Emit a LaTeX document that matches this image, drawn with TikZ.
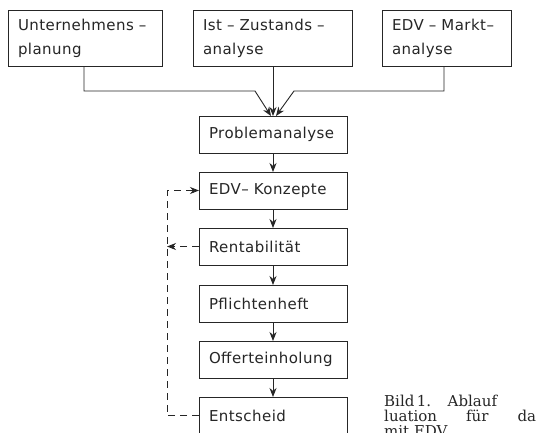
\documentclass[tikz,border=0pt]{standalone}
\usepackage{fontspec}
\setmainfont{Liberation Serif}
\newfontfamily\boxfont[LetterSpace=3]{DejaVu Sans}
\newfontfamily\capfont{DejaVu Serif}
\usetikzlibrary{arrows.meta}
\definecolor{ink}{HTML}{262626}
\tikzset{
  flowbox/.style={draw=ink, line width=1pt, anchor=north west, inner xsep=10pt, inner ysep=0pt,
    outer sep=0pt, align=left, text=ink, font=\boxfont\fontsize{15}{24}\selectfont},
  topbox/.style={flowbox, minimum height=56pt},
  midbox/.style={flowbox, minimum height=37pt, minimum width=148pt, text width=128pt},
  conn/.style={draw=ink, line width=0.9pt},
  tip/.style={-{Stealth[length=9pt,width=7pt]}},
  feedback/.style={conn, dash pattern=on 7pt off 5pt},
  caption/.style={anchor=base west, inner sep=0pt, text=ink, font=\capfont\fontsize{15}{16}\selectfont}
}
\begin{document}
\begin{tikzpicture}[x=1pt,y=-1pt]
\useasboundingbox (0,0) rectangle (542,432);
\fill[white] (0,0) rectangle (542,432);
\begin{scope}
\clip (0,0) rectangle (542,432);
% top boxes
\node[topbox, minimum width=154pt, text width=134pt] (u) at (8,10) {Unternehmens –\\planung};
\node[topbox, minimum width=159pt, text width=139pt] (i) at (193,10) {Ist – Zustands –\\analyse};
\node[topbox, minimum width=129pt, text width=109pt] (e) at (382,10) {EDV – Markt–\\analyse};
% middle column
\node[midbox] (p) at (199,116) {Problemanalyse};
\node[midbox] (k) at (199,172) {EDV– Konzepte};
\node[midbox] (r) at (199,228) {Rentabilität};
\node[midbox] (h) at (199,285) {Pflichtenheft};
\node[midbox] (o) at (199,341) {Offerteinholung};
\node[midbox] (s) at (199,397) {Entscheid};
% merging connectors
\coordinate (ul) at (84,91);
\coordinate (ur) at (255,91);
\coordinate (el) at (444,91);
\coordinate (er) at (294,91);
\coordinate (tl) at (271,116);
\coordinate (tr) at (276,116);
\draw[conn, tip] (u.south -| ul) -- (ul) -- (ur) -- (tl);
\draw[conn, tip] (i.south -| p.north) -- (p.north);
\draw[conn, tip] (e.south -| el) -- (el) -- (er) -- (tr);
% chain
\draw[conn, tip] (p) -- (k);
\draw[conn, tip] (k) -- (r);
\draw[conn, tip] (r) -- (h);
\draw[conn, tip] (h) -- (o);
\draw[conn, tip] (o) -- (s);
% feedback
\coordinate (fx) at (167,0);
\draw[feedback, tip] (s.west) -- (s.west -| fx) -- (k.west -| fx) -- (k.west);
\draw[feedback, tip] (r.west) -- (r.west -| fx);
% caption
\node[caption] (c1) at (384,406) {Bild\,1.\hspace{1.1em}Ablauf};
\node[caption] (c2) at (384,421) {\makebox[152pt][s]{luation für da}};
\node[caption] (c3) at (384,436) {mit EDV};
\end{scope}
\end{tikzpicture}
\end{document}
